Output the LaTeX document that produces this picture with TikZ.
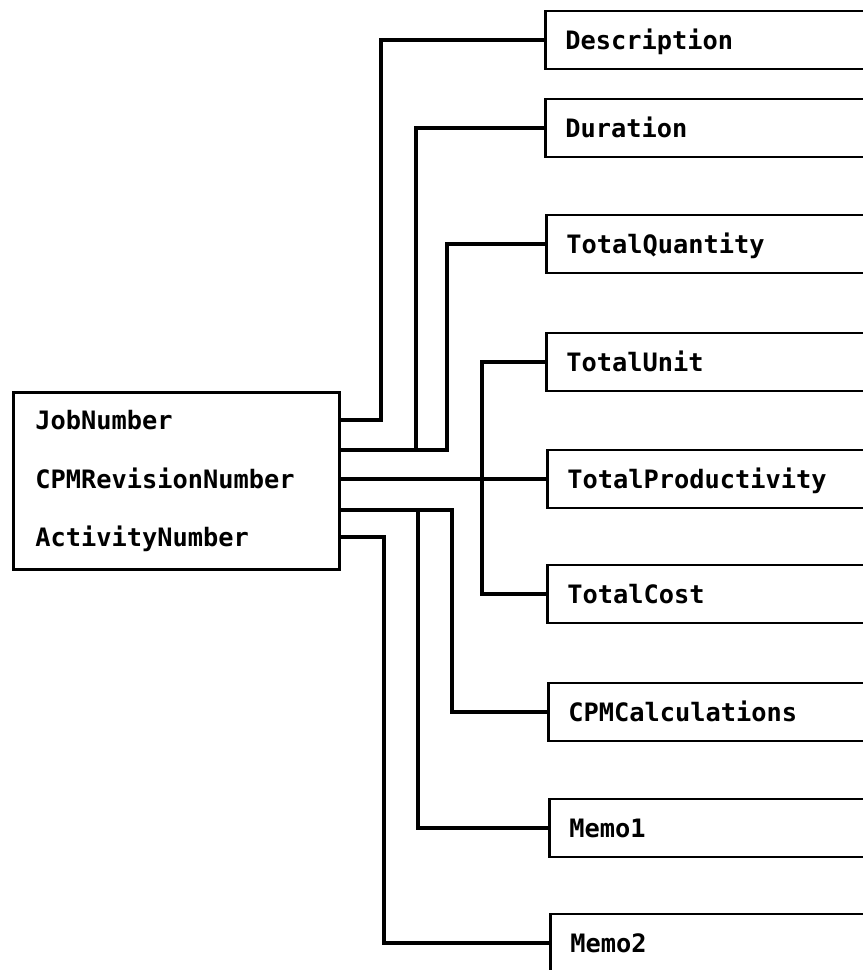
\documentclass[tikz,border=0pt]{standalone}
\usepackage{fontspec}
\setmonofont{DejaVu Sans Mono}
\begin{document}
\begin{tikzpicture}[x=0.75pt,y=-0.75pt,
  lbl/.style={font=\ttfamily\bfseries\fontsize{19pt}{22pt}\selectfont, inner sep=0pt, anchor=west, text height=14pt, text depth=0pt},
  fbox/.style={draw, line width=2.2pt, anchor=west, minimum height=43.5pt, text width=255pt, inner xsep=15pt, align=left,
    font=\ttfamily\bfseries\fontsize{19pt}{22pt}\selectfont, text height=14pt, text depth=0pt},
  conn/.style={line width=2.4pt, line join=miter}]
\useasboundingbox (0,0) rectangle (863,970);
\begin{scope}
\clip (0,0) rectangle (863,970);
% left box
\node (lb) [draw, line width=2.2pt, anchor=north west, minimum width=244.5pt, minimum height=132.75pt, inner sep=0pt] at (12,391) {};
\node (t1) [lbl] at (35,420) {JobNumber};
\node (t2) [lbl] at (35,479) {CPMRevisionNumber};
\node (t3) [lbl] at (35,537) {ActivityNumber};
\coordinate (p1) at (338,420);
\coordinate (p2) at (338,450);
\coordinate (p3) at (338,479);
\coordinate (p4) at (338,510);
\coordinate (p5) at (338,537);
% right boxes
\node (desc) [fbox] at (544,40) {Description};
\node (dur) [fbox] at (544,128) {Duration};
\node (tq) [fbox] at (545,244) {TotalQuantity};
\node (tu) [fbox] at (545,362) {TotalUnit};
\node (tp) [fbox] at (546,479) {TotalProductivity};
\node (tc) [fbox] at (546,594) {TotalCost};
\node (cc) [fbox] at (547,712) {CPMCalculations};
\node (m1) [fbox] at (548,828) {Memo1};
\node (m2) [fbox] at (549,943) {Memo2};
% connectors
\draw[conn] (p1) -- ++(43,0) |- (desc.west);
\draw[conn] (p2) -- ++(78,0) |- (dur.west);
\draw[conn] (p2) -- ++(109,0) |- (tq.west);
\draw[conn] (p3) -- (tp.west);
\draw[conn] (tu.west) -- ++(-63,0) |- (tc.west);
\draw[conn] (p4) -- ++(80,0) |- (m1.west);
\draw[conn] (p4) -- ++(114,0) |- (cc.west);
\draw[conn] (p5) -- ++(46,0) |- (m2.west);
\end{scope}
\end{tikzpicture}
\end{document}
